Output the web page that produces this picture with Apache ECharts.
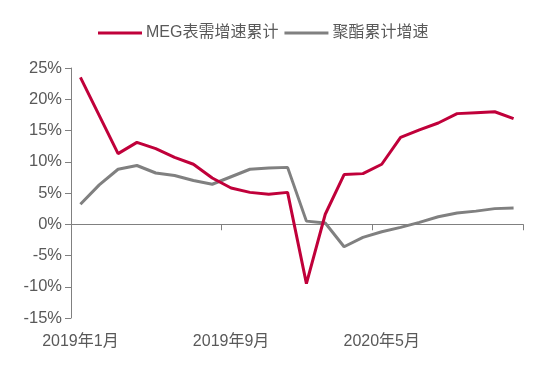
<!DOCTYPE html>
<html>
<head>
<meta charset="utf-8">
<script src="https://cdn.jsdelivr.net/npm/echarts@6/dist/echarts.min.js"></script>
<style>
html,body{margin:0;padding:0;background:#fff;}
#c{width:550px;height:369px;}
</style>
</head>
<body>
<div id="c"></div>
<script>
var categories = ['2019年1月','2019年2月','2019年3月','2019年4月','2019年5月','2019年6月','2019年7月','2019年8月',
  '2019年9月','2019年10月','2019年11月','2019年12月','2020年1月','2020年2月','2020年3月','2020年4月',
  '2020年5月','2020年6月','2020年7月','2020年8月','2020年9月','2020年10月','2020年11月','2020年12月'];
var megDemand = [23.5, null, 11.3, 13.1, 12.1, 10.7, 9.6, 7.4, 5.8, 5.1, 4.8, 5.1,
  -9.5, 1.6, 7.95, 8.1, 9.6, 13.9, 15.1, 16.2, 17.7, 17.85, 18.0, 16.9];
var polyester = [3.2, 6.3, 8.8, 9.4, 8.2, 7.8, 7.0, 6.4, 7.6, 8.8, 9.0, 9.1,
  0.5, 0.2, -3.6, -2.1, -1.2, -0.5, 0.3, 1.2, 1.8, 2.1, 2.5, 2.6];
var seriesNames = ['MEG表需增速累计', '聚酯累计增速'];
var yTicks = {min: -15, max: 25, interval: 5};

var chart = echarts.init(document.getElementById('c'));
var textColor = '#595959';
var axisColor = '#808080';
chart.setOption({
  animation: false,
  backgroundColor: '#fff',
  legend: {
    top: 20,
    left: 93,
    itemWidth: 44,
    itemHeight: 3,
    itemGap: 6,
    icon: 'rect',
    textStyle: {fontSize: 16, color: textColor, fontFamily: 'Liberation Sans, Noto Sans CJK SC', padding: [0,0,0,-1]},
    data: seriesNames
  },
  grid: {left: 71, right: 27, top: 68, bottom: 51, containLabel: false},
  xAxis: [{
    type: 'category',
    data: categories,
    boundaryGap: true,
    position: 'bottom',
    axisLine: {show: true, onZero: true, lineStyle: {color: axisColor, width: 1}},
    axisTick: {show: true, interval: 7, length: 6, lineStyle: {color: axisColor}},
    axisLabel: {show: false},
    splitLine: {show: false}
  }, {
    type: 'category',
    data: categories,
    boundaryGap: true,
    position: 'bottom',
    axisLine: {show: false, onZero: false},
    axisTick: {show: false},
    axisLabel: {show: true, interval: 7, margin: 16, fontSize: 16, color: textColor,
      fontFamily: 'Liberation Sans, Noto Sans CJK SC'},
    splitLine: {show: false}
  }],
  yAxis: {
    type: 'value',
    min: yTicks.min, max: yTicks.max, interval: yTicks.interval,
    axisLine: {show: true, lineStyle: {color: axisColor, width: 1}},
    axisTick: {show: true, length: 6, lineStyle: {color: axisColor}},
    axisLabel: {margin: 9, fontSize: 16.5, color: textColor, fontFamily: 'Liberation Sans',
      formatter: function(v){ return v + '%'; }},
    splitLine: {show: false}
  },
  series: [{
    name: seriesNames[0],
    type: 'line',
    data: megDemand,
    connectNulls: true,
    symbol: 'none',
    lineStyle: {color: '#C0003A', width: 3},
    itemStyle: {color: '#C0003A'},
    z: 3
  }, {
    name: seriesNames[1],
    type: 'line',
    data: polyester,
    symbol: 'none',
    lineStyle: {color: '#808080', width: 3},
    itemStyle: {color: '#808080'},
    z: 2
  }]
});
</script>
</body>
</html>
